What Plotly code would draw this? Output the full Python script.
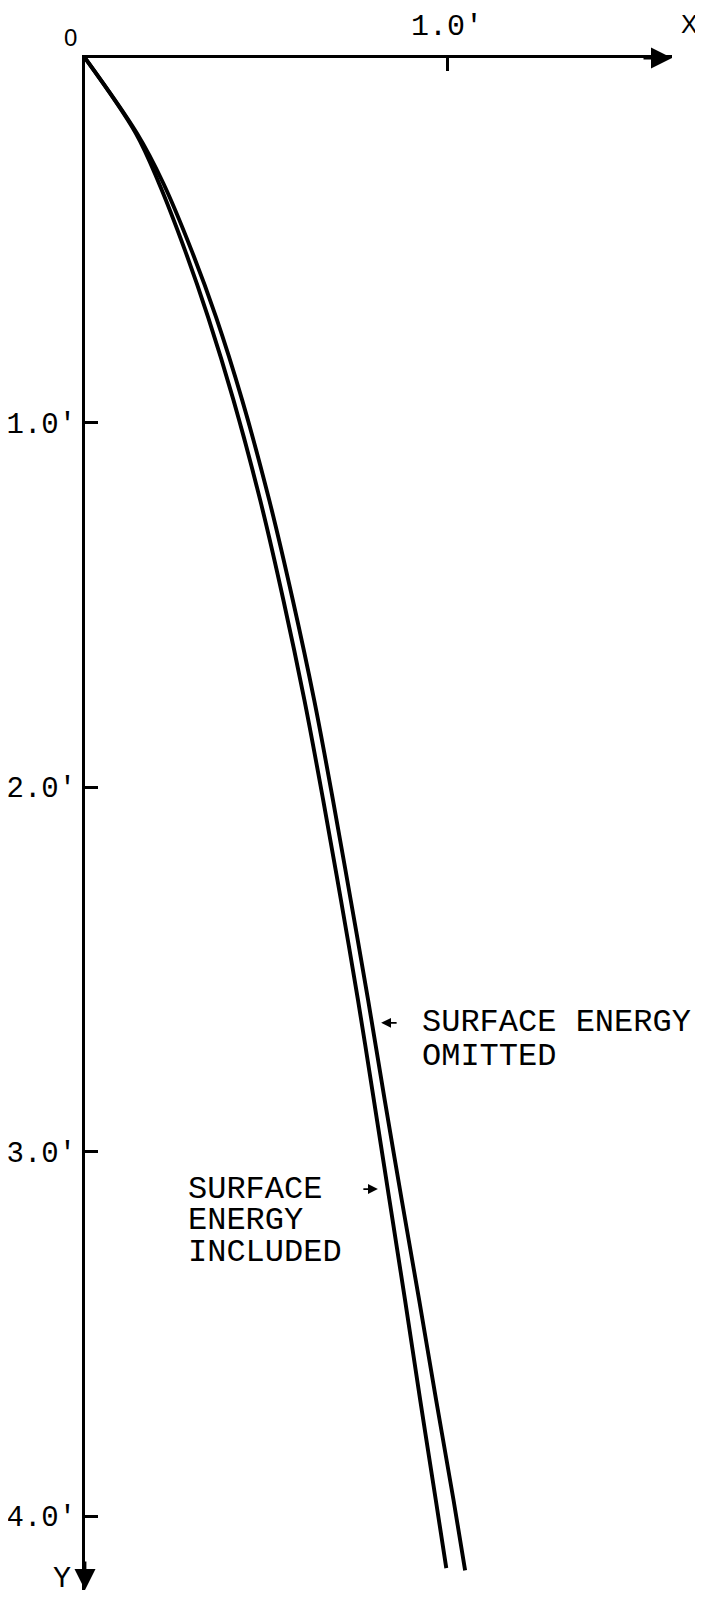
import plotly.graph_objects as go

# ---- data (feet) ----
y_included = [0.0, 0.206, 0.343, 0.527, 0.711, 0.938, 1.213, 1.487, 1.761, 2.036,
              2.310, 2.584, 2.859, 3.133, 3.407, 3.682, 3.956, 4.143]
x_included = [0.0, 0.140, 0.204, 0.276, 0.340, 0.410, 0.484, 0.548, 0.606, 0.658,
              0.707, 0.754, 0.798, 0.841, 0.884, 0.926, 0.969, 0.998]

y_omitted = [0.0, 0.206, 0.343, 0.527, 0.711, 0.938, 1.213, 1.487, 1.761, 2.036,
             2.310, 2.584, 2.859, 3.133, 3.407, 3.682, 3.956, 4.149]
x_omitted = [0.0, 0.143, 0.216, 0.294, 0.362, 0.434, 0.509, 0.574, 0.633, 0.685,
             0.734, 0.782, 0.828, 0.875, 0.923, 0.970, 1.018, 1.050]

x_tick_vals = [1.0]
x_tick_text = ["1.0'"]
y_tick_vals = [1.0, 2.0, 3.0, 4.0]
y_tick_text = ["1.0'", "2.0'", "3.0'", "4.0'"]

MONO = "Liberation Mono"
SANS = "Liberation Sans"

fig = go.Figure()
fig.add_trace(go.Scatter(x=x_included, y=y_included, mode="lines",
                         line=dict(color="black", width=3.9, shape="spline", smoothing=1.0),
                         name="Surface energy included", showlegend=False))
fig.add_trace(go.Scatter(x=x_omitted, y=y_omitted, mode="lines",
                         line=dict(color="black", width=3.9, shape="spline", smoothing=1.0),
                         name="Surface energy omitted", showlegend=False))

annotations = []
# axis arrowheads
annotations.append(dict(xref="paper", yref="paper", x=1.0, y=1.0, ax=-30, ay=0,
                        text="", showarrow=True, arrowhead=2, arrowsize=1.5,
                        arrowwidth=2.8, arrowcolor="black"))
annotations.append(dict(xref="paper", yref="paper", x=0.0, y=0.0, ax=0, ay=-30,
                        text="", showarrow=True, arrowhead=2, arrowsize=1.5,
                        arrowwidth=2.8, arrowcolor="black"))
# axis names
annotations.append(dict(xref="paper", yref="paper", x=-0.024, y=1.0137, text="0",
                        xanchor="center", yanchor="middle", showarrow=False,
                        font=dict(family=SANS, size=24, color="black")))
annotations.append(dict(xref="paper", yref="paper", x=1.029, y=1.0222, text="X",
                        xanchor="center", yanchor="middle", showarrow=False,
                        font=dict(family=SANS, size=25, color="black")))
annotations.append(dict(xref="paper", yref="paper", x=-0.040, y=0.0072, text="Y",
                        xanchor="center", yanchor="middle", showarrow=False,
                        font=dict(family=MONO, size=30, color="black")))

# curve labels
lab_font = dict(family=MONO, size=32, color="black")
for txt, yy in [("SURFACE ENERGY", 2.647), ("OMITTED", 2.738)]:
    annotations.append(dict(x=0.928, y=yy, text=txt, showarrow=False, xanchor="left",
                            yanchor="middle", borderpad=0, font=lab_font))
for txt, yy in [("SURFACE", 3.103), ("ENERGY", 3.188), ("INCLUDED", 3.276)]:
    annotations.append(dict(x=0.282, y=yy, text=txt, showarrow=False, xanchor="left",
                            yanchor="middle", borderpad=0, font=lab_font))
# small pointer arrows
annotations.append(dict(x=0.818, y=2.647, ax=17, ay=0, text="", showarrow=True,
                        arrowhead=2, arrowsize=1.1, arrowwidth=1.8, arrowcolor="black"))
annotations.append(dict(x=0.809, y=3.103, ax=-16, ay=0, text="", showarrow=True,
                        arrowhead=2, arrowsize=1.1, arrowwidth=1.8, arrowcolor="black"))

fig.update_layout(
    width=695, height=1592,
    margin=dict(l=77, r=31, t=50, b=10, pad=0, autoexpand=False),
    paper_bgcolor="white", plot_bgcolor="white",
    showlegend=False,
    annotations=annotations,
    xaxis=dict(range=[0, 1.6215], side="top", showline=True, linecolor="black",
               linewidth=3.2, showgrid=False, zeroline=False, automargin=False,
               tickmode="array", tickvals=x_tick_vals, ticktext=x_tick_text,
               ticks="inside", ticklen=13, tickwidth=2.5, tickcolor="black",
               ticklabelstandoff=8,
               tickfont=dict(family=MONO, size=30, color="black")),
    yaxis=dict(range=[4.203, 0], showline=True, linecolor="black",
               linewidth=3.2, showgrid=False, zeroline=False, automargin=False,
               tickmode="array", tickvals=y_tick_vals, ticktext=y_tick_text,
               ticks="inside", ticklen=13, tickwidth=2.5, tickcolor="black",
               tickfont=dict(family=MONO, size=29, color="black")),
)

fig.write_html("out.html")
